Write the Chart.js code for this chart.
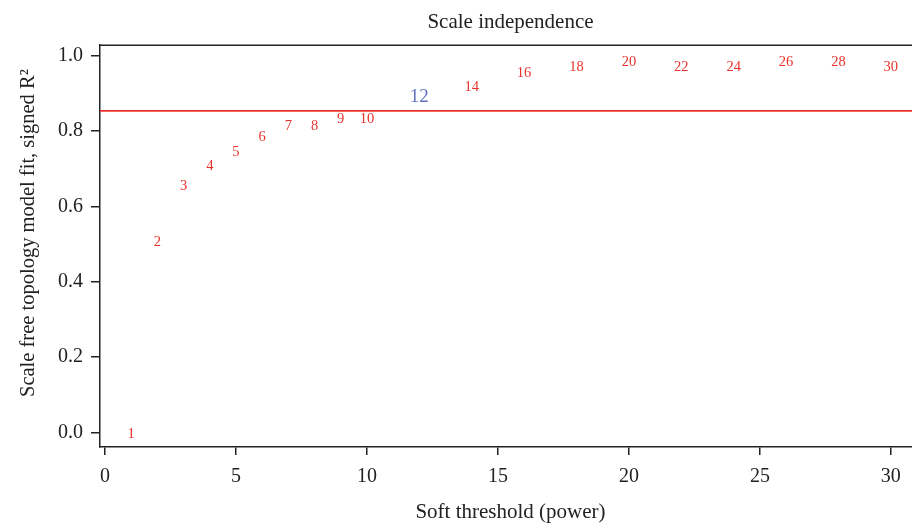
<!DOCTYPE html>
<html>
<head>
<meta charset="utf-8">
<script src="https://cdn.jsdelivr.net/npm/chart.js@4/dist/chart.umd.min.js"></script>
<style>
  html, body { margin: 0; padding: 0; background: #fff; overflow: hidden; }
</style>
</head>
<body>
<canvas id="sftChart" width="921" height="526"></canvas>
<script>
// soft-threshold powers and the scale-free fit (signed R^2) for each
var powers = [1, 2, 3, 4, 5, 6, 7, 8, 9, 10, 12, 14, 16, 18, 20, 22, 24, 26, 28, 30];
var fitR2 = [-0.005, 0.504, 0.653, 0.706, 0.743, 0.783, 0.812, 0.812, 0.832, 0.830,
             0.890, 0.917, 0.953, 0.968, 0.981, 0.970, 0.970, 0.981, 0.981, 0.968];
var chosenPower = 12;
var cutHeight = 0.853;

var xTicks = [0, 5, 10, 15, 20, 25, 30];
var yTicks = [0.0, 0.2, 0.4, 0.6, 0.8, 1.0];

var xMin = -0.19, xMax = 31.15;
var yMin = -0.038, yMax = 1.027;

var yTitle = 'Scale free topology model fit, signed R²';

var red = '#e8322b';
var blue = '#6270c2';
var ink = '#222';
var serif = '"Liberation Serif", "Times New Roman", serif';

// the powers are written as text at each point instead of markers
var powerLabels = {
    id: 'powerLabels',
    afterDatasetsDraw: function (chart) {
        var ctx = chart.ctx;
        var meta = chart.getDatasetMeta(0);
        ctx.save();
        ctx.textAlign = 'center';
        ctx.textBaseline = 'middle';
        meta.data.forEach(function (pt, i) {
            var p = powers[i];
            if (p === chosenPower) {
                ctx.fillStyle = blue;
                ctx.font = '19px ' + serif;
            } else {
                ctx.fillStyle = red;
                ctx.font = '14.5px ' + serif;
            }
            ctx.fillText(String(p), pt.x, pt.y);
        });
        // top edge of the plot box
        var a = chart.chartArea;
        ctx.strokeStyle = ink;
        ctx.lineWidth = 1.5;
        ctx.beginPath();
        ctx.moveTo(a.left, a.top);
        ctx.lineTo(a.right, a.top);
        ctx.stroke();
        ctx.restore();
    },
    afterDraw: function (chart) {
        // y axis title, set a little above the middle of the axis
        var ctx = chart.ctx;
        var a = chart.chartArea;
        ctx.save();
        ctx.translate(29, (a.top + a.bottom) / 2 - 13);
        ctx.rotate(-Math.PI / 2);
        ctx.textAlign = 'center';
        ctx.textBaseline = 'middle';
        ctx.fillStyle = ink;
        ctx.font = '20.5px ' + serif;
        ctx.fillText(yTitle, 0, 0);
        ctx.restore();
    }
};

var ctx = document.getElementById('sftChart').getContext('2d');
var sftChart = new Chart(ctx, {
    type: 'scatter',
    data: {
        datasets: [{
            label: 'fit',
            data: powers.map(function (p, i) { return { x: p, y: fitR2[i] }; }),
            pointRadius: 0,
            pointHoverRadius: 0
        }, {
            type: 'line',
            label: 'cut',
            data: [{ x: xMin, y: cutHeight }, { x: xMax, y: cutHeight }],
            borderColor: red,
            borderWidth: 1.6,
            pointRadius: 0,
            fill: false
        }]
    },
    options: {
        responsive: false,
        animation: false,
        events: [],
        layout: { padding: 0 },
        plugins: {
            legend: { display: false },
            tooltip: { enabled: false },
            title: {
                display: true,
                fullSize: false,
                text: 'Scale independence',
                color: ink,
                font: { family: serif, size: 21, weight: 'normal' },
                padding: { top: 10, bottom: 10 }
            }
        },
        scales: {
            x: {
                type: 'linear',
                min: xMin,
                max: xMax,
                afterBuildTicks: function (scale) {
                    scale.ticks = xTicks.map(function (v) { return { value: v }; });
                },
                afterFit: function (scale) { scale.height = 79; },
                grid: { display: true, drawOnChartArea: false, drawTicks: true, tickLength: 8, color: ink, lineWidth: 1.5 },
                border: { display: true, color: ink, width: 1.5 },
                ticks: {
                    color: ink,
                    padding: 10,
                    maxRotation: 0,
                    font: { family: serif, size: 20 },
                    callback: function (v) { return String(v); }
                },
                title: {
                    display: true,
                    text: 'Soft threshold (power)',
                    color: ink,
                    font: { family: serif, size: 21 },
                    padding: { top: 0, bottom: 1 }
                }
            },
            y: {
                type: 'linear',
                min: yMin,
                max: yMax,
                afterBuildTicks: function (scale) {
                    scale.ticks = yTicks.map(function (v) { return { value: v }; });
                },
                afterFit: function (scale) { scale.width = 100; },
                grid: { display: true, drawOnChartArea: false, drawTicks: true, tickLength: 9, color: ink, lineWidth: 1.5 },
                border: { display: true, color: ink, width: 1.5 },
                ticks: {
                    color: ink,
                    padding: 8,
                    font: { family: serif, size: 20 },
                    callback: function (v) { return v.toFixed(1); }
                }
            }
        }
    },
    plugins: [powerLabels]
});
</script>
</body>
</html>
